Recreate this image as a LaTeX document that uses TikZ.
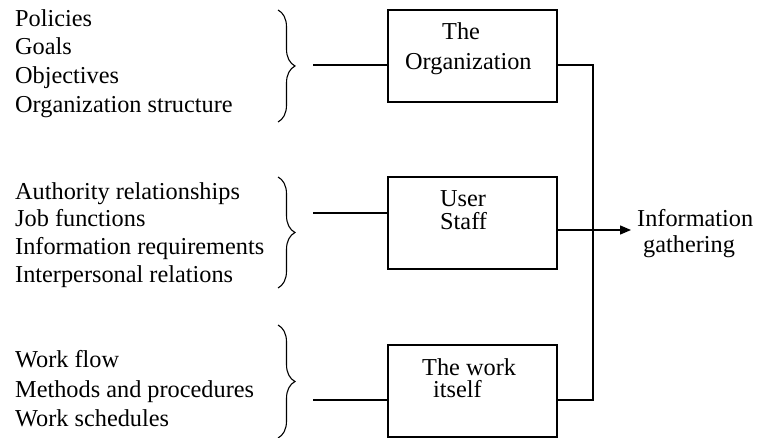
\documentclass[tikz,border=0pt]{standalone}
\usepackage{fontspec}
\setmainfont{Liberation Serif}
\usetikzlibrary{decorations.pathreplacing,arrows.meta}
\begin{document}
\begin{tikzpicture}[x=1pt,y=-1pt,
  txt/.style={anchor=base west,inner sep=0pt,font=\fontsize{24.3}{28}\selectfont},
  boxnode/.style={draw,line width=1.3pt,minimum width=169pt,minimum height=92pt,inner sep=0pt},
  brc/.style={decorate,decoration={brace,amplitude=17pt},line width=1.1pt},
  conn/.style={line width=1.3pt}]
\useasboundingbox (0,0) rectangle (758,438);
% left texts
\node[txt] (p1) at (15,27) {Policies};
\node[txt] (p2) at (15,55) {Goals};
\node[txt] (p3) at (15,84) {Objectives};
\node[txt] (p4) at (15,113) {Organization structure};
\node[txt] (a1) at (15,200) {Authority relationships};
\node[txt] (a2) at (15,227) {Job functions};
\node[txt] (a3) at (15,255) {Information requirements};
\node[txt] (a4) at (15,283) {Interpersonal relations};
\node[txt] (w1) at (15,368) {Work flow};
\node[txt] (w2) at (15,397) {Methods and procedures};
\node[txt] (w3) at (15,426) {Work schedules};
% braces
\coordinate (b1t) at (278,10);  \coordinate (b1b) at (278,122);
\coordinate (b2t) at (278,177); \coordinate (b2b) at (278,288);
\coordinate (b3t) at (278,325); \coordinate (b3b) at (278,438);
\draw[brc] (b1t) -- (b1b);
\draw[brc] (b2t) -- (b2b);
\draw[brc] (b3t) -- (b3b);
% boxes
\node[boxnode] (box1) at (472.5,56) {};
\node[boxnode] (box2) at (472.5,223) {};
\node[boxnode] (box3) at (472.5,391) {};
\node[txt] (t1a) at (442,40) {The};
\node[txt] (t1b) at (405,70) {Organization};
\node[txt] (t2a) at (440,207) {User};
\node[txt] (t2b) at (440,230) {Staff};
\node[txt] (t3a) at (422,375) {The work};
\node[txt] (t3b) at (433,398) {itself};
\node[txt] (i1) at (637,227) {Information};
\node[txt] (i2) at (643,253) {gathering};
% input lines
\coordinate (c1) at (313,65);
\coordinate (c2) at (313,213);
\coordinate (c3) at (313,400);
\draw[conn] (c1) -- (c1 -| box1.west);
\draw[conn] (c2) -- (c2 -| box2.west);
\draw[conn] (c3) -- (c3 -| box3.west);
% output lines
\coordinate (r1) at (593,65);
\coordinate (r3) at (593,400);
\coordinate (r2) at (593,230);
\coordinate (tip) at (631,230);
\draw[conn] (r1 -| box1.east) -- (r1) -- (r3) -- (r3 -| box3.east);
\draw[conn,-{Triangle[length=11pt,width=9pt]}] (r2 -| box2.east) -- (tip);
\end{tikzpicture}
\end{document}
